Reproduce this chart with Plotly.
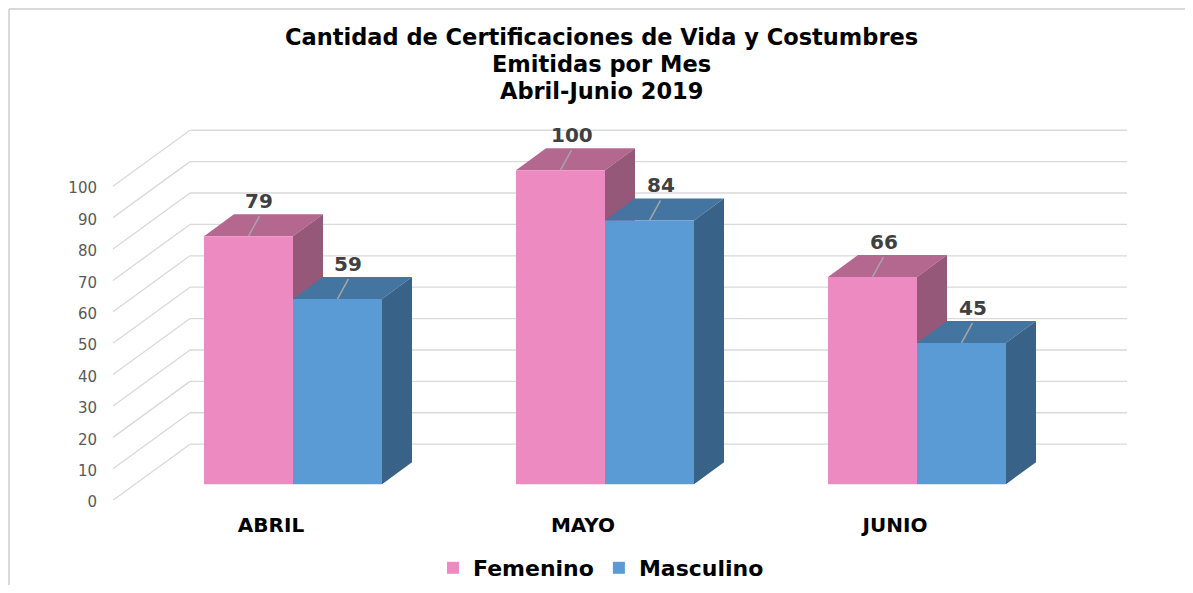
import plotly.graph_objects as go

# ---------------- data ----------------
categories = ["ABRIL", "MAYO", "JUNIO"]
femenino = [79, 100, 66]
masculino = [59, 84, 45]
series_names = ["Femenino", "Masculino"]
y_ticks = list(range(0, 101, 10))
title_lines = ["Cantidad de Certificaciones de Vida y Costumbres",
               "Emitidas por Mes", "Abril-Junio 2019"]

# ---------------- styling / geometry constants ----------------
OFF = 8                      # page body margin
W, H = 1193 - OFF - 8, 593 - OFF - 8
ML, MT = 110 - OFF, 120 - OFF
PW, PH = 1025, 383
MR, MB = W - ML - PW, H - MT - PH
X_RANGE = [-0.5865, 2.6987]
Y_RANGE = [-6, 116]
PX_X = PW / (X_RANGE[1] - X_RANGE[0])   # px per x unit
PX_Y = PH / (Y_RANGE[1] - Y_RANGE[0])   # px per y unit

BAR_W = 89 / PX_X
DX = 30 / PX_X          # bar depth (x)
DY = 22 / PX_Y          # bar depth (y)
WALL_X0 = -180 / PX_X   # front-left of floor diagonals
WALL_X1 = -103 / PX_X   # back wall left edge
WALL_X2 = 834 / PX_X    # back wall right edge
FRONT_DY = -16 / PX_Y
BACK_DY = 40 / PX_Y

COLORS = {
    "Femenino": {"front": "#EE8AC2", "top": "#B4678F", "side": "#955878"},
    "Masculino": {"front": "#5B9BD5", "top": "#4474A0", "side": "#386287"},
}
GRID = "#D9D9D9"
FONT = "DejaVu Sans"


def paper_x(win_x):
    return (win_x - OFF - ML) / PW


def paper_y(win_y):
    return (MT + PH - (win_y - OFF)) / PH


x_idx = list(range(len(categories)))

fig = go.Figure()
shapes = []

# back-wall gridlines and floor/side diagonals
for v in y_ticks:
    shapes.append(dict(type="line", xref="x", yref="y", layer="below",
                       x0=WALL_X0, y0=v + FRONT_DY, x1=WALL_X1, y1=v + BACK_DY,
                       line=dict(color=GRID, width=1.3)))
    shapes.append(dict(type="line", xref="x", yref="y", layer="below",
                       x0=WALL_X1, y0=v + BACK_DY, x1=WALL_X2, y1=v + BACK_DY,
                       line=dict(color=GRID, width=1.3)))

annotations = []
series = [("Femenino", femenino, -BAR_W), ("Masculino", masculino, 0.0)]

# 3D faces, ordered so later faces overlap earlier ones correctly
for i in x_idx:
    for name, vals, off in series:
        v = vals[i]
        x0 = i + off
        x1 = x0 + BAR_W
        c = COLORS[name]
        top = f"M {x0},{v} L {x1},{v} L {x1+DX},{v+DY} L {x0+DX},{v+DY} Z"
        side = f"M {x1},0 L {x1+DX},{DY} L {x1+DX},{v+DY} L {x1},{v} Z"
        shapes.append(dict(type="path", xref="x", yref="y", layer="below",
                           path=top, fillcolor=c["top"], line=dict(width=0)))
        shapes.append(dict(type="path", xref="x", yref="y", layer="below",
                           path=side, fillcolor=c["side"], line=dict(width=0)))

for name, vals, off in series:
    xc = [i + off + BAR_W / 2 for i in x_idx]
    for i in x_idx:
        v = vals[i]
        shapes.append(dict(type="line", xref="x", yref="y", layer="above",
                           x0=xc[i], y0=v, x1=xc[i] + 11 / PX_X, y1=v + 20 / PX_Y,
                           line=dict(color="#A6A6A6", width=1.5)))
        annotations.append(dict(x=xc[i] + 11 / PX_X, y=v + 35 / PX_Y, xref="x", yref="y",
                                text=f"<b>{v}</b>", showarrow=False,
                                font=dict(family=FONT, size=20, color="#404040")))
    fig.add_trace(go.Bar(
        x=x_idx, y=vals, name=name, width=BAR_W, offset=off,
        marker=dict(color=COLORS[name]["front"], line=dict(width=0)),
        hoverinfo="skip",
    ))

# title (one annotation per line for exact line spacing)
for k, line in enumerate(title_lines):
    annotations.append(dict(
        x=paper_x(601), y=paper_y(37 + 27 * k), xref="paper", yref="paper",
        xanchor="center", yanchor="middle", showarrow=False,
        text=f"<b>{line}</b>",
        font=dict(family=FONT, size=22.5, color="black"),
    ))

# chart border (top and left edges)
bx = (1 - ML) / PW
by = (MT + PH - 1) / PH
shapes.append(dict(type="line", xref="paper", yref="paper", layer="below",
                   x0=bx, y0=by, x1=(W + 20 - ML) / PW, y1=by,
                   line=dict(color="#D9D9D9", width=2)))
shapes.append(dict(type="line", xref="paper", yref="paper", layer="below",
                   x0=bx, y0=by, x1=bx, y1=(MT + PH - H - 20) / PH,
                   line=dict(color="#D9D9D9", width=2)))

fig.update_layout(
    width=W, height=H, autosize=False,
    margin=dict(l=ML, r=MR, t=MT, b=MB, pad=0),
    paper_bgcolor="white", plot_bgcolor="white",
    barmode="overlay",
    shapes=shapes,
    annotations=annotations,
    xaxis=dict(range=X_RANGE, showgrid=False, zeroline=False, showline=False,
               tickvals=[i - 22 / PX_X for i in x_idx], ticktext=categories,
               tickfont=dict(family=FONT, size=20, color="black", weight="bold"),
               ticks="", ticklabelstandoff=8, automargin=False, fixedrange=True),
    yaxis=dict(range=Y_RANGE, showgrid=False, zeroline=False, showline=False,
               tickvals=y_ticks, ticks="", ticklabelshift=18,
               ticklabelstandoff=12,
               tickfont=dict(family=FONT, size=15, color="#595959"),
               automargin=False, fixedrange=True),
    legend=dict(orientation="h", x=paper_x(601), xanchor="center",
                yref="container", y=1 - (568 - OFF) / H, yanchor="middle",
                font=dict(family=FONT, size=22, color="black", weight="bold"),
                itemsizing="constant"),
    showlegend=True,
)

fig.write_html("out.html")
